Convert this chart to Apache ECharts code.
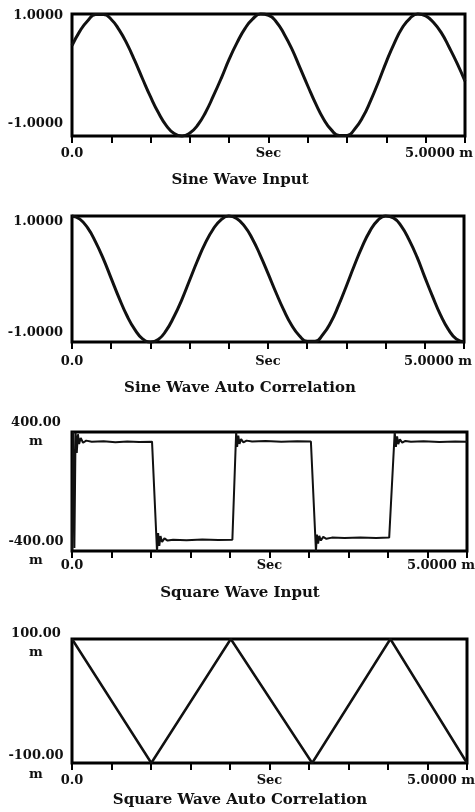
<!DOCTYPE html>
<html><head><meta charset="utf-8">
<script src="https://cdn.jsdelivr.net/npm/echarts@6/dist/echarts.min.js"></script>
<style>html,body{margin:0;padding:0;background:#fff;}#c{width:475px;height:812px;}</style>
</head><body><div id="c"></div>
<script>
// time axis (ms) for the sine panels
const timeMs = [0,0.1,0.2,0.3,0.4,0.5,0.6,0.7,0.8,0.9,1.0,1.1,1.2,1.3,1.4,1.5,1.6,1.7,1.8,1.9,2.0,2.1,2.2,2.3,2.4,2.5,2.6,2.7,2.8,2.9,3.0,3.1,3.2,3.3,3.4,3.5,3.6,3.7,3.8,3.9,4.0,4.1,4.2,4.3,4.4,4.5,4.6,4.7,4.8,4.9,5.0];
const sineInput = [0.48,0.72,0.89,0.99,0.99,0.91,0.74,0.51,0.23,-0.07,-0.36,-0.62,-0.83,-0.96,-1.00,-0.95,-0.82,-0.61,-0.34,-0.05,0.26,0.53,0.76,0.92,1.00,0.98,0.87,0.67,0.42,0.12,-0.18,-0.47,-0.72,-0.90,-0.99,-0.99,-0.88,-0.69,-0.42,-0.11,0.22,0.52,0.77,0.93,1.00,0.97,0.86,0.69,0.45,0.19,-0.10];
const sineAutoCorr = [1.00,0.95,0.81,0.59,0.32,0.01,-0.30,-0.58,-0.80,-0.95,-1.00,-0.96,-0.82,-0.60,-0.33,-0.02,0.29,0.57,0.79,0.94,1.00,0.96,0.84,0.64,0.38,0.09,-0.21,-0.49,-0.73,-0.90,-0.99,-0.99,-0.88,-0.69,-0.42,-0.11,0.21,0.51,0.76,0.93,1.00,0.97,0.84,0.62,0.35,0.03,-0.28,-0.57,-0.80,-0.95,-1.00];
// square wave input (ms, m)
const squareInT = [0,0.015,0.03,0.045,0.06,0.075,0.09,0.11,0.14,0.18,0.25,0.4,0.55,0.7,0.85,1.013,1.076,1.09,1.105,1.12,1.14,1.17,1.21,1.28,1.45,1.65,1.85,2.03,2.078,2.09,2.105,2.12,2.14,2.17,2.21,2.28,2.45,2.65,2.85,3.024,3.088,3.10,3.115,3.13,3.15,3.18,3.22,3.29,3.45,3.65,3.85,4.015,4.085,4.10,4.115,4.13,4.15,4.18,4.22,4.29,4.45,4.65,4.85,5.0];
const squareInV = [-390,400,-380,395,260,385,320,360,328,342,334,337,331,336,333,335,-400,-280,-365,-300,-340,-315,-330,-324,-327,-322,-326,-324,400,300,375,320,352,330,342,336,339,334,337,336,-400,-290,-350,-298,-330,-305,-318,-310,-313,-309,-312,-310,400,300,370,318,350,328,340,334,337,333,336,334];
// square wave auto correlation (ms, m)
const squareAcT = [0,1.004,2.01,3.04,4.03,5.0];
const squareAcV = [100,-100,100,-100,100,-100];
// labels
const titles = ['Sine Wave Input','Sine Wave Auto Correlation','Square Wave Input','Square Wave Auto Correlation'];
const xLabelValues = [0,2.5,5];
const xLabelTexts = ['0.0','Sec','5.0000 m'];
const yMaxLabels = ['1.0000','1.0000','400.00\nm','100.00\nm'];
const yMinLabels = ['-1.0000','-1.0000','-400.00\nm','-100.00\nm'];
const yMin = [-1,-1,-400,-100];
const yMax = [1,1,400,100];

const FONT = '"DejaVu Serif", serif';
const chart = echarts.init(document.getElementById('c'), null, {renderer:'canvas'});

const grids = [
  {left:72, top:14, right:10, height:122},
  {left:72, top:216, right:11, height:126},
  {left:72, top:432, right:8, height:119},
  {left:72, top:639, right:8, height:124}
];
const xMargins = [11.5, 13.5, 8.5, 11.5];
const titleTops = [173, 381, 586, 793];

function xLabel(v){
  for (let i=0;i<xLabelValues.length;i++){
    if (Math.abs(v-xLabelValues[i])<1e-6) {
      return i===2 ? '{r|'+xLabelTexts[i]+'}' : xLabelTexts[i];
    }
  }
  return '';
}

const option = {
  backgroundColor:'#fff',
  animation:false,
  title: titles.map((t,i)=>({text:t,left:240,textAlign:'center',top:titleTops[i],padding:0,
    textStyle:{fontFamily:FONT,fontWeight:'bold',fontSize:15,color:'#111'}})),
  grid: grids.map(g=>Object.assign({show:true,borderColor:'#000',borderWidth:3,backgroundColor:'transparent',containLabel:false,outerBoundsMode:'none'},g)),
  xAxis: grids.map((g,i)=>({
    type:'value', gridIndex:i, min:0, max:5, interval:0.5, position:'bottom',
    axisLine:{show:false,onZero:false},
    axisTick:{show:true,length:7,lineStyle:{color:'#000',width:2}},
    splitLine:{show:false},
    axisLabel:{show:true,showMinLabel:true,showMaxLabel:true,margin:xMargins[i],formatter:xLabel,
      alignMaxLabel:'right', hideOverlap:false,
      fontFamily:FONT,fontWeight:'bold',fontSize:13,color:'#111',
      rich:{r:{fontFamily:FONT,fontWeight:'bold',fontSize:13,color:'#111',padding:[0,-8,0,0]}}}
  })),
  yAxis: grids.map((g,i)=>{
    const two = i>=2;
    return {
      type:'value', gridIndex:i, min:yMin[i], max:yMax[i], interval:yMax[i]-yMin[i],
      axisLine:{show:false,onZero:false}, axisTick:{show:false}, splitLine:{show:false},
      axisLabel:{
        show:true, showMinLabel:true, showMaxLabel:true,
        align: two ? 'center' : 'right',
        margin: two ? 36 : 9,
        formatter:function(v){
          if (v===yMax[i]) return two ? yMaxLabels[i].split('\n').map(s=>'{t'+'|'+s+'}').join('\n') : '{t|'+yMaxLabels[i]+'}';
          if (v===yMin[i]) return two ? yMinLabels[i].split('\n').map(s=>'{b'+'|'+s+'}').join('\n') : '{b|'+yMinLabels[i]+'}';
          return '';
        },
        fontFamily:FONT,fontWeight:'bold',fontSize:13,color:'#111',
        rich:{
          t:{fontFamily:FONT,fontWeight:'bold',fontSize:13,color:'#111',lineHeight:19,
             padding: i===0?[3,0,0,0]: i===1?[12,0,0,0]: i===3?[8,0,0,0]:[0,0,0,0]},
          b:{fontFamily:FONT,fontWeight:'bold',fontSize:13,color:'#111',lineHeight:19,
             padding: i===0?[0,0,24,0]: i===1?[0,0,19,0]: i===3?[4,0,0,0]:[0,0,0,0]}
        }
      }
    };
  }),
  series: [
    {type:'line',xAxisIndex:0,yAxisIndex:0,data:timeMs.map((t,k)=>[t,sineInput[k]]),smooth:true,showSymbol:false,clip:false,lineStyle:{color:'#111',width:3}},
    {type:'line',xAxisIndex:1,yAxisIndex:1,data:timeMs.map((t,k)=>[t,sineAutoCorr[k]]),smooth:true,showSymbol:false,clip:false,lineStyle:{color:'#111',width:3}},
    {type:'line',xAxisIndex:2,yAxisIndex:2,data:squareInT.map((t,k)=>[t,squareInV[k]]),showSymbol:false,clip:false,lineStyle:{color:'#111',width:2}},
    {type:'line',xAxisIndex:3,yAxisIndex:3,data:squareAcT.map((t,k)=>[t,squareAcV[k]]),showSymbol:false,clip:false,lineStyle:{color:'#111',width:2.5}}
  ]
};
chart.setOption(option);
</script>
</body></html>
